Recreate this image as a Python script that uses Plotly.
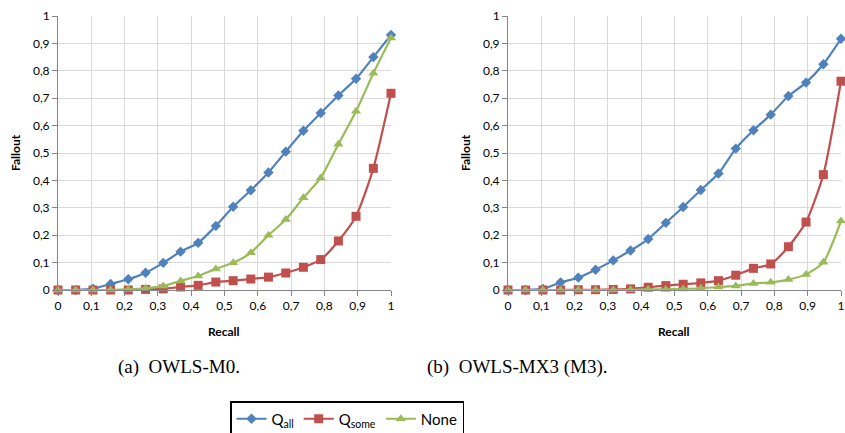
import plotly.graph_objects as go

recall = [0, 0.053, 0.105, 0.158, 0.211, 0.263, 0.316, 0.368, 0.421, 0.474,
          0.526, 0.579, 0.632, 0.684, 0.737, 0.789, 0.842, 0.895, 0.947, 1.0]

m0_qall = [0, 0, 0.005, 0.022, 0.039, 0.063, 0.099, 0.140, 0.172, 0.234,
           0.304, 0.364, 0.429, 0.505, 0.581, 0.646, 0.710, 0.771, 0.850, 0.931]
m0_qsome = [0, 0, 0, 0, 0, 0.002, 0.004, 0.011, 0.017, 0.029,
            0.034, 0.040, 0.047, 0.062, 0.083, 0.111, 0.179, 0.269, 0.444, 0.718]
m0_none = [0, 0, 0, 0, 0.002, 0.006, 0.015, 0.033, 0.051, 0.077,
           0.099, 0.136, 0.200, 0.257, 0.337, 0.409, 0.532, 0.652, 0.791, 0.920]

m3_qall = [0, 0, 0.004, 0.028, 0.045, 0.074, 0.108, 0.144, 0.186, 0.245,
           0.303, 0.365, 0.425, 0.516, 0.583, 0.640, 0.708, 0.757, 0.824, 0.917]
m3_qsome = [0, 0, 0, 0, 0.001, 0.001, 0.002, 0.004, 0.010, 0.016,
            0.021, 0.026, 0.034, 0.054, 0.079, 0.095, 0.158, 0.248, 0.421, 0.762]
m3_none = [0, 0, 0, 0, 0, 0, 0, 0.001, 0.002, 0.002,
           0.004, 0.006, 0.011, 0.015, 0.024, 0.028, 0.038, 0.057, 0.101, 0.252]

series_names = ["Q<sub>all</sub>", "Q<sub>some</sub>", "None"]
colors = ["#4F81BD", "#C0504D", "#9BBB59"]
symbols = ["diamond", "square", "triangle-up"]
msizes = [8, 9, 9]

captions = ["(a)  OWLS-M0.", "(b)  OWLS-MX3 (M3)."]

W, H = 845, 433
tick_font = dict(family="Lato, Liberation Sans, sans-serif", size=12, color="#000000")

fig = go.Figure()

for panel, data in enumerate([(m0_qall, m0_qsome, m0_none), (m3_qall, m3_qsome, m3_none)]):
    xa = "x" if panel == 0 else "x2"
    ya = "y" if panel == 0 else "y2"
    for i, ys in enumerate(data):
        fig.add_trace(go.Scatter(
            x=recall, y=ys, xaxis=xa, yaxis=ya,
            mode="lines+markers",
            name=series_names[i],
            showlegend=(panel == 0),
            line=dict(color=colors[i], width=2.2, shape="spline", smoothing=0.6),
            marker=dict(symbol=symbols[i], size=msizes[i], color=colors[i]),
            cliponaxis=False,
        ))

def px_x(p):
    return p / W

def px_y(p):
    return 1 - p / H

axis_common = dict(
    range=[0, 1], dtick=0.1, tick0=0,
    showgrid=True, gridcolor="#D9D9D9", gridwidth=1,
    showline=True, linecolor="#868686", linewidth=1,
    ticks="outside", ticklen=5, tickcolor="#868686",
    tickfont=tick_font, zeroline=False, fixedrange=True, automargin=False,
)

fig.update_layout(
    width=W, height=H,
    margin=dict(l=0, r=0, t=0, b=0, autoexpand=False),
    paper_bgcolor="white", plot_bgcolor="white",
    separators=", ",
    hovermode=False,
    xaxis=dict(domain=[px_x(58), px_x(391)], anchor="y", **axis_common),
    yaxis=dict(domain=[px_y(290), px_y(16)], anchor="x", **axis_common),
    xaxis2=dict(domain=[px_x(508), px_x(841)], anchor="y2", **axis_common),
    yaxis2=dict(domain=[px_y(290), px_y(16)], anchor="x2", **axis_common),
    legend=dict(
        orientation="h", x=px_x(230), y=px_y(401), xanchor="left", yanchor="top",
        bordercolor="#000000", borderwidth=1.5, bgcolor="white",
        font=dict(family="Lato, Liberation Sans, sans-serif", size=15, color="#000000"),
        itemwidth=30, tracegroupgap=0,
    ),
)

annotations = []
title_font = dict(family="Lato, Liberation Sans, sans-serif", size=12, color="#000000")
for cx, fx in [(224, 15), (674, 465)]:
    annotations.append(dict(text="<b>Recall</b>", x=px_x(cx), y=px_y(331), xref="paper", yref="paper",
                            showarrow=False, font=title_font, xanchor="center", yanchor="middle"))
    annotations.append(dict(text="<b>Fallout</b>", x=px_x(fx), y=px_y(153), xref="paper", yref="paper",
                            showarrow=False, font=title_font, textangle=-90, xanchor="center", yanchor="middle"))

cap_font = dict(family="Liberation Serif, DejaVu Serif, serif", size=19, color="#000000")
annotations.append(dict(text=captions[0], x=px_x(179), y=px_y(367), xref="paper", yref="paper",
                        showarrow=False, font=cap_font, xanchor="center", yanchor="middle"))
annotations.append(dict(text=captions[1], x=px_x(517), y=px_y(367), xref="paper", yref="paper",
                        showarrow=False, font=cap_font, xanchor="center", yanchor="middle"))
fig.update_layout(annotations=annotations)

fig.write_html(
    "out.html",
    config={"displayModeBar": False, "staticPlot": True},
    post_script="document.body.style.margin='0px';document.body.style.overflow='hidden';",
)
